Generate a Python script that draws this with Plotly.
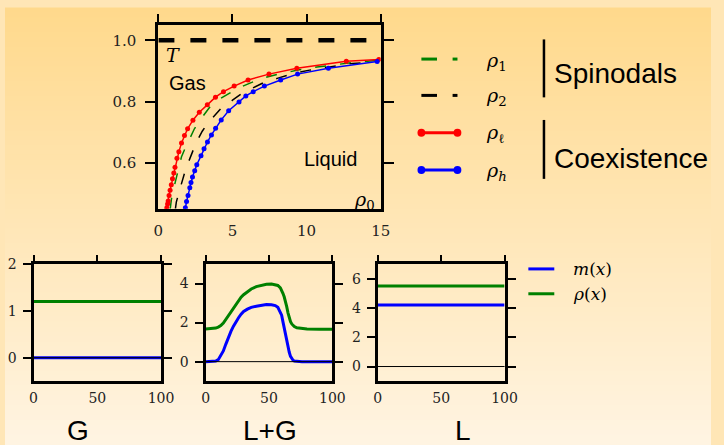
import plotly.graph_objects as go

W, H = 724, 445

# ---------------- data: phase diagram (top) ----------------
rho_l_x = [0.52, 0.57, 0.62, 0.66, 0.72, 0.79, 0.87, 0.95, 1.04, 1.12, 1.25, 1.38, 1.56, 1.76, 1.97,
           2.33, 2.76, 3.3, 3.85, 4.39, 5.11, 6.05, 7.46, 9.34, 12.68, 14.87]
rho_l_y = [0.445, 0.455, 0.467, 0.477, 0.495, 0.512, 0.530, 0.549, 0.568, 0.587, 0.616, 0.637, 0.666, 0.690, 0.712,
           0.740, 0.766, 0.790, 0.815, 0.833, 0.851, 0.871, 0.890, 0.909, 0.932, 0.938]

rho_h_x = [1.79, 1.82, 1.9, 2.0, 2.12, 2.2, 2.30, 2.45, 2.59, 2.875, 3.08, 3.31, 3.58, 3.86, 4.24, 4.74,
           5.44, 5.90, 6.40, 7.15, 8.25, 9.39, 11.47, 14.76]
rho_h_y = [0.445, 0.455, 0.475, 0.495, 0.520, 0.537, 0.555, 0.575, 0.595, 0.624, 0.647, 0.669, 0.692, 0.714, 0.741, 0.771,
           0.799, 0.819, 0.833, 0.851, 0.871, 0.890, 0.909, 0.931]

rho1_x = [0.80, 0.88, 1.05, 1.2, 1.34, 1.56, 1.8, 2.04, 2.43, 2.75, 3.09, 3.53, 4.1, 4.7, 5.4, 6.3, 6.8,
          8.0, 9.5, 10.7, 11.8, 13.3, 14.8]
rho1_y = [0.452, 0.483, 0.521, 0.548, 0.573, 0.621, 0.648, 0.672, 0.712, 0.736, 0.758, 0.787, 0.808, 0.826, 0.845, 0.863, 0.874,
          0.889, 0.904, 0.913, 0.920, 0.929, 0.935]

rho2_x = [1.15, 1.21, 1.38, 1.55, 1.78, 2.04, 2.3, 2.55, 2.96, 3.3, 3.68, 4.24, 5.0, 5.65, 6.3, 7.09, 8.07,
          9.26, 10.2, 11.5, 13.1, 14.5]
rho2_y = [0.452, 0.473, 0.504, 0.535, 0.570, 0.605, 0.637, 0.667, 0.704, 0.728, 0.749, 0.779, 0.805, 0.828, 0.843, 0.862, 0.877,
          0.894, 0.903, 0.913, 0.925, 0.929]

T_x = [0, 15]
T_y = [1.0, 1.0]

top_xticks = [0, 5, 10, 15]
top_yticks = [0.6, 0.8, 1.0]

# ---------------- data: profiles (bottom) ----------------
G_x = [0, 100]
G_m = [0.0, 0.0]
G_rho = [1.2, 1.2]

LG_x = [0, 5, 8, 10, 12, 14, 16, 18, 20, 22, 24, 26, 28, 30, 33, 36, 40, 44, 48, 52, 55, 57, 59, 60,
        61, 62, 63, 64, 65, 66, 67, 68, 69, 70, 72, 76, 80, 90, 100]
LG_m = [0.0, 0.0, 0.03, 0.1, 0.3, 0.55, 0.9, 1.25, 1.55, 1.82, 2.05, 2.25, 2.43, 2.57, 2.69, 2.78, 2.84, 2.89, 2.92, 2.91,
        2.87, 2.78, 2.55, 2.38, 2.05, 1.72, 1.38, 1.05, 0.75, 0.48, 0.27, 0.13, 0.07, 0.03, 0.01, 0.0, 0.0, 0.0, 0.0]
LG_rho = [1.67, 1.68, 1.72, 1.77, 1.85, 1.98, 2.17, 2.38, 2.58, 2.78, 2.97, 3.14, 3.30, 3.43, 3.60, 3.72, 3.84, 3.91, 3.96, 3.97,
          3.95, 3.90, 3.78, 3.66, 3.50, 3.32, 3.10, 2.82, 2.50, 2.25, 2.05, 1.93, 1.85, 1.80, 1.73, 1.69, 1.67, 1.66, 1.66]

L_x = [0, 100]
L_m = [4.2, 4.2]
L_rho = [5.5, 5.5]

bottom_xticks = [0, 50, 100]
G_yticks = [0, 1, 2]
LG_yticks = [0, 2, 4]
L_yticks = [0, 2, 4, 6]

panel_labels = ["G", "L+G", "L"]

RED, BLUE, GREEN, BLACK = "#ff0000", "#0000ff", "#008000", "#000000"
SERIF = "DejaVu Serif"
SANS = "Liberation Sans"


def fx(p):
    return p / W


def fy(p):
    return 1 - p / H


fig = go.Figure()

# top panel traces
fig.add_trace(go.Scatter(x=T_x, y=T_y, mode="lines", line=dict(color=BLACK, width=4.5, dash="16px,16px"),
                         xaxis="x", yaxis="y", showlegend=False, hoverinfo="skip"))
fig.add_trace(go.Scatter(x=rho1_x, y=rho1_y, mode="lines", line=dict(color=GREEN, width=1.5, dash="11px,14px"),
                         xaxis="x", yaxis="y", showlegend=False))
fig.add_trace(go.Scatter(x=rho2_x, y=rho2_y, mode="lines", line=dict(color=BLACK, width=1.5, dash="11px,14px"),
                         xaxis="x", yaxis="y", showlegend=False))
fig.add_trace(go.Scatter(x=rho_l_x, y=rho_l_y, mode="lines+markers", line=dict(color=RED, width=1.5),
                         marker=dict(size=5, color=RED), xaxis="x", yaxis="y", showlegend=False))
fig.add_trace(go.Scatter(x=rho_h_x, y=rho_h_y, mode="lines+markers", line=dict(color=BLUE, width=1.5),
                         marker=dict(size=5, color=BLUE), xaxis="x", yaxis="y", showlegend=False))

# bottom panels
for i, (xs, ms, rs) in enumerate([(G_x, G_m, G_rho), (LG_x, LG_m, LG_rho), (L_x, L_m, L_rho)]):
    ax = str(i + 2)
    fig.add_trace(go.Scatter(x=xs, y=ms, mode="lines", line=dict(color=BLUE, width=3),
                             xaxis="x" + ax, yaxis="y" + ax, showlegend=False))
    fig.add_trace(go.Scatter(x=xs, y=rs, mode="lines", line=dict(color=GREEN, width=3),
                             xaxis="x" + ax, yaxis="y" + ax, showlegend=False))

# dummy traces for the top-tick overlay axes
for ax, ya in [("x5", "y"), ("x6", "y2"), ("x7", "y3"), ("x8", "y4")]:
    fig.add_trace(go.Scatter(x=[None], y=[None], xaxis=ax, yaxis=ya, showlegend=False, hoverinfo="skip"))

frame = dict(showline=True, linecolor=BLACK, linewidth=3, showgrid=False, zeroline=False)
tickfont_top = dict(family=SERIF, size=15, color="#222")
tickfont_bot = dict(family=SERIF, size=14, color="#222")

layout = dict(
    width=W, height=H,
    margin=dict(l=0, r=0, t=0, b=0),
    paper_bgcolor="rgb(255,230,182)",
    plot_bgcolor="rgba(0,0,0,0)",
    showlegend=False,
)

# top panel axes
layout["xaxis"] = dict(frame, domain=[fx(157.3), fx(385.3)], range=[0, 15], anchor="y", mirror=True,
                       ticks="", tickvals=top_xticks, tickfont=tickfont_top, ticklabelstandoff=6)
layout["yaxis"] = dict(frame, domain=[fy(204.3), fy(17.3)], range=[0.452, 1.05], anchor="x", mirror="ticks",
                       ticks="outside", ticklen=10, tickwidth=1.5, tickcolor=BLACK, tickvals=top_yticks,
                       tickformat=".1f", tickfont=tickfont_top, ticklabelstandoff=6)
layout["xaxis5"] = dict(overlaying="x", side="top", anchor="y", range=[0, 15], tickvals=top_xticks,
                        ticks="outside", ticklen=10, tickwidth=1.5, tickcolor=BLACK, showticklabels=False,
                        showline=False, showgrid=False, zeroline=False)

bx_dom = [[29.3, 160], [205.7, 335.7], [382.3, 512.3]]
by_rng = [[-0.5, 2.0], [-1, 5], [-1, 7]]
by_ticks = [G_yticks, LG_yticks, L_yticks]
for i in range(3):
    n = str(i + 2)
    layout["xaxis" + n] = dict(frame, domain=[fx(bx_dom[i][0]), fx(bx_dom[i][1])], range=[0, 100], anchor="y" + n,
                               mirror=True, ticks="", tickvals=bottom_xticks, tickfont=tickfont_bot,
                               ticklabelstandoff=2)
    layout["yaxis" + n] = dict(frame, domain=[fy(380), fy(260.7)], range=by_rng[i], anchor="x" + n,
                               mirror="ticks", ticks="outside", ticklen=8, tickwidth=1.5, tickcolor=BLACK,
                               tickvals=by_ticks[i], tickfont=tickfont_bot, ticklabelstandoff=3)
    layout["xaxis" + str(i + 6)] = dict(overlaying="x" + n, side="top", anchor="y" + n, range=[0, 100],
                                        tickvals=bottom_xticks, ticks="outside", ticklen=8, tickwidth=1.5,
                                        tickcolor=BLACK, showticklabels=False, showline=False, showgrid=False,
                                        zeroline=False)

fig.update_layout(**layout)

shapes = []
# background gradient
top_c = (255, 217, 140)
bot_c = (255, 244, 226)
nb = 89
for k in range(nb):
    t = (k + 0.5) / nb
    c = tuple(round(top_c[j] + (bot_c[j] - top_c[j]) * t) for j in range(3))
    shapes.append(dict(type="rect", xref="paper", yref="paper", x0=0, x1=1,
                       y0=fy((k + 1) * H / nb + 0.5), y1=fy(k * H / nb - 0.5),
                       fillcolor="rgb(%d,%d,%d)" % c, line=dict(width=0), layer="below"))

# zero lines in bottom panels
for n in ["2", "3", "4"]:
    shapes.append(dict(type="line", xref="x%s domain" % n, yref="y" + n, x0=0, x1=1, y0=0, y1=0,
                       line=dict(color=BLACK, width=1), layer="above"))

# top legend swatches
def seg(x0, x1, y, color, w=3):
    shapes.append(dict(type="line", xref="paper", yref="paper", x0=fx(x0), x1=fx(x1), y0=fy(y), y1=fy(y),
                       line=dict(color=color, width=w)))


def dot(x, y, color, r=4):
    shapes.append(dict(type="circle", xref="paper", yref="paper", x0=fx(x - r), x1=fx(x + r),
                       y0=fy(y + r), y1=fy(y - r), fillcolor=color, line=dict(width=0)))


seg(427, 443, 52, GREEN)
seg(459, 464, 52, GREEN)
seg(427, 443, 89, BLACK)
seg(459, 464, 89, BLACK)
seg(427, 464, 127, RED)
dot(427, 127, RED)
dot(464, 127, RED)
seg(427, 464, 165, BLUE)
dot(427, 165, BLUE)
dot(464, 165, BLUE)
# group bars
seg(552.7, 552.7, 32, BLACK, 2.5)
shapes[-1].update(y0=fy(32), y1=fy(91))
seg(552.7, 552.7, 114, BLACK, 2.5)
shapes[-1].update(y0=fy(114), y1=fy(174))
# bottom legend swatches
seg(536.7, 563.3, 265.7, BLUE)
seg(536.7, 563.3, 291, GREEN)

fig.update_layout(shapes=shapes)

ann = []


def text(x, y, s, size, family, xanchor="left", xref="paper", yref="paper"):
    ann.append(dict(x=x, y=y, xref=xref, yref=yref, text=s, showarrow=False, xanchor=xanchor,
                    yanchor="middle", font=dict(family=family, size=size, color=BLACK)))


# in-plot labels
text(1.0, 0.953, "<i>T</i>", 19, SERIF, "center", "x", "y")
text(1.95, 0.86, "Gas", 20, SANS, "center", "x", "y")
text(11.6, 0.612, "Liquid", 20, SANS, "center", "x", "y")
text(13.93, 0.48, "<i>ρ</i><sub>0</sub>", 19, SERIF, "center", "x", "y")

# top legend labels
text(fx(491), fy(54), "<i>ρ</i><sub>1</sub>", 19, SERIF)
text(fx(491), fy(90), "<i>ρ</i><sub>2</sub>", 19, SERIF)
text(fx(491), fy(128), "<i>ρ</i><sub>ℓ</sub>", 19, SERIF)
text(fx(491), fy(166), "<i>ρ</i><sub><i>h</i></sub>", 19, SERIF)
text(fx(561), fy(67), "Spinodals", 28, SANS)
text(fx(561), fy(153), "Coexistence", 28, SANS)

# bottom legend labels
text(fx(580), fy(266), "<i>m</i>(<i>x</i>)", 17, SERIF)
text(fx(580), fy(291), "<i>ρ</i>(<i>x</i>)", 17, SERIF)

# panel labels
for lab, cx in zip(panel_labels, [75, 271.5, 469.5]):
    text(fx(cx), fy(430), lab, 28, SANS, "center")

fig.update_layout(annotations=ann)

fig.write_html("out.html", config={"displayModeBar": False},
               post_script="document.body.style.margin='0';document.body.style.overflow='hidden';")
